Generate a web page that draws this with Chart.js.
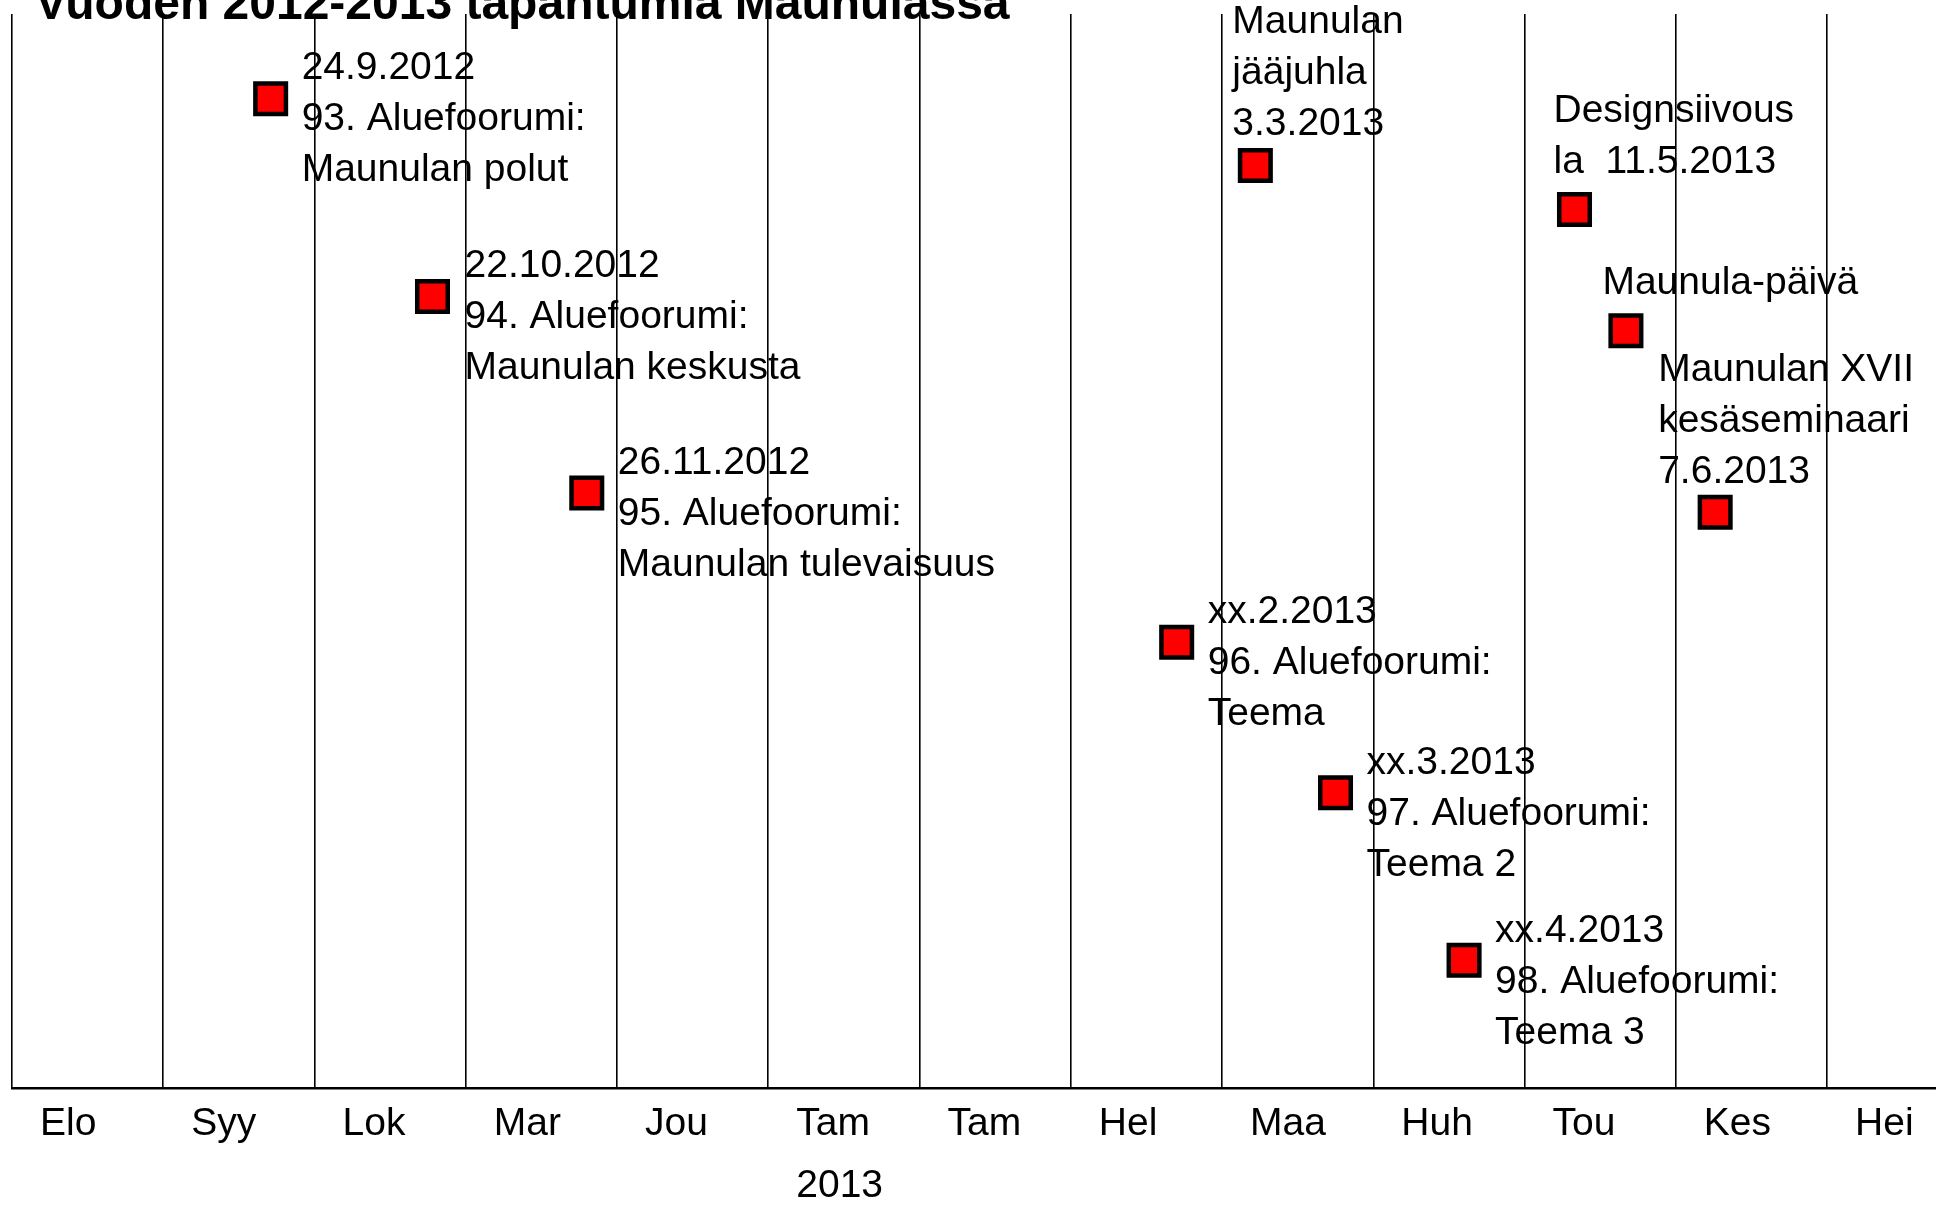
<!DOCTYPE html>
<html>
<head>
<meta charset="utf-8">
<script src="https://cdn.jsdelivr.net/npm/chart.js@4.4.1/dist/chart.umd.min.js"></script>
<style>
  html, body { margin: 0; padding: 0; background: #fff; overflow: hidden; }
  canvas { display: block; }
</style>
</head>
<body>
<canvas id="canvas1" width="1936" height="1205"></canvas>
<script>
var ctx1 = document.getElementById("canvas1").getContext("2d");

// months shown under the grid (Aug 2012 -> Jul 2013), as written in the original
const monthLabels = ["Elo", "Syy", "Lok", "Mar", "Jou", "Tam", "Tam", "Hel", "Maa", "Huh", "Tou", "Kes", "Hei"];
const yearLabel = "2013";
const yearLabelIndex = 5;

// event position on the month axis (0 = start of Elo) and its height in the picture
const eventX = [1.71, 2.78, 3.80, 7.70, 8.22, 8.75, 9.60, 10.33, 10.67, 11.26];
const eventY = [92.1, 73.7, 55.4, 41.5, 85.9, 27.5, 11.9, 81.8, 70.5, 53.6];
const eventLabels = [
  ["24.9.2012", "93. Aluefoorumi:", "Maunulan polut"],
  ["22.10.2012", "94. Aluefoorumi:", "Maunulan keskusta"],
  ["26.11.2012", "95. Aluefoorumi:", "Maunulan tulevaisuus"],
  ["xx.2.2013", "96. Aluefoorumi:", "Teema"],
  ["Maunulan", "jääjuhla", "3.3.2013"],
  ["xx.3.2013", "97. Aluefoorumi:", "Teema 2"],
  ["xx.4.2013", "98. Aluefoorumi:", "Teema 3"],
  ["Designsiivous", "la  11.5.2013"],
  ["Maunula-päivä"],
  ["Maunulan XVII", "kesäseminaari", "7.6.2013"],
];

const FONT = "'Liberation Sans', Arial, sans-serif";

// draws the text next to each marker, using the marker positions from the chart
const eventLabelPlugin = {
  id: "eventLabels",
  afterDatasetsDraw(chart, args, opts) {
    const ctx = chart.ctx;
    const meta = chart.getDatasetMeta(0);
    ctx.save();
    ctx.font = opts.size + "px " + FONT;
    ctx.fillStyle = "#000";
    ctx.textAlign = "left";
    ctx.textBaseline = "alphabetic";
    meta.data.forEach((pt, i) => {
      const off = opts.offsets[i];
      eventLabels[i].forEach((line, j) => {
        ctx.fillText(line, pt.x + off[0], pt.y + off[1] + j * opts.lineHeight);
      });
    });
    ctx.restore();
  },
};

// the title sits a bit in from the plot's left edge
const titleShiftPlugin = {
  id: "titleShift",
  afterLayout(chart) {
    if (chart.titleBlock) chart.titleBlock.left = 35;
  },
};

let myChart = new Chart(ctx1, {
  type: "scatter",
  data: {
    datasets: [
      {
        data: eventX.map((x, i) => ({ x: x, y: eventY[i] })),
        pointStyle: "rect",
        pointRadius: 21.6,
        pointHoverRadius: 21.6,
        backgroundColor: "#ff0000",
        borderColor: "#000000",
        borderWidth: 4.5,
      },
    ],
  },
  options: {
    responsive: false,
    animation: false,
    events: [],
    layout: { autoPadding: false, padding: { left: 12, right: 0, top: 0, bottom: 0 } },
    scales: {
      x: {
        type: "linear",
        min: 0,
        max: 12.72,
        afterFit: (scale) => { scale.height = 117; },
        grid: { color: "#000", lineWidth: 1.6, drawTicks: false },
        border: { color: "#000", width: 2.5 },
        ticks: {
          stepSize: 1,
          includeBounds: false,
          autoSkip: false,
          maxRotation: 0,
          align: "start",
          labelOffset: 28,
          padding: 5,
          color: "#000",
          font: { family: FONT, size: 39, lineHeight: 1.6 },
          callback: (v) => {
            const name = monthLabels[Math.round(v)];
            return Math.round(v) === yearLabelIndex ? [name, yearLabel] : name;
          },
        },
      },
      y: {
        display: false,
        min: 0,
        max: 100,
      },
    },
    plugins: {
      legend: { display: false },
      tooltip: { enabled: false },
      title: {
        display: true,
        text: "Vuoden 2012-2013 tapahtumia Maunulassa",
        align: "start",
        color: "#000",
        font: { family: FONT, size: 48, weight: "bold", lineHeight: 1.2 },
        padding: { top: -23, bottom: -20.6 },
      },
      eventLabels: {
        size: 39,
        lineHeight: 51,
        offsets: [
          [31, -19.5], [32, -19.5], [31, -19.5], [31, -19.5],
          [-23, -132.5], [31, -18.5], [31, -18.5],
          [-21, -87.7], [-23.5, -36.7], [-57, -131.3],
        ],
      },
    },
  },
  plugins: [eventLabelPlugin, titleShiftPlugin],
});
</script>
</body>
</html>
